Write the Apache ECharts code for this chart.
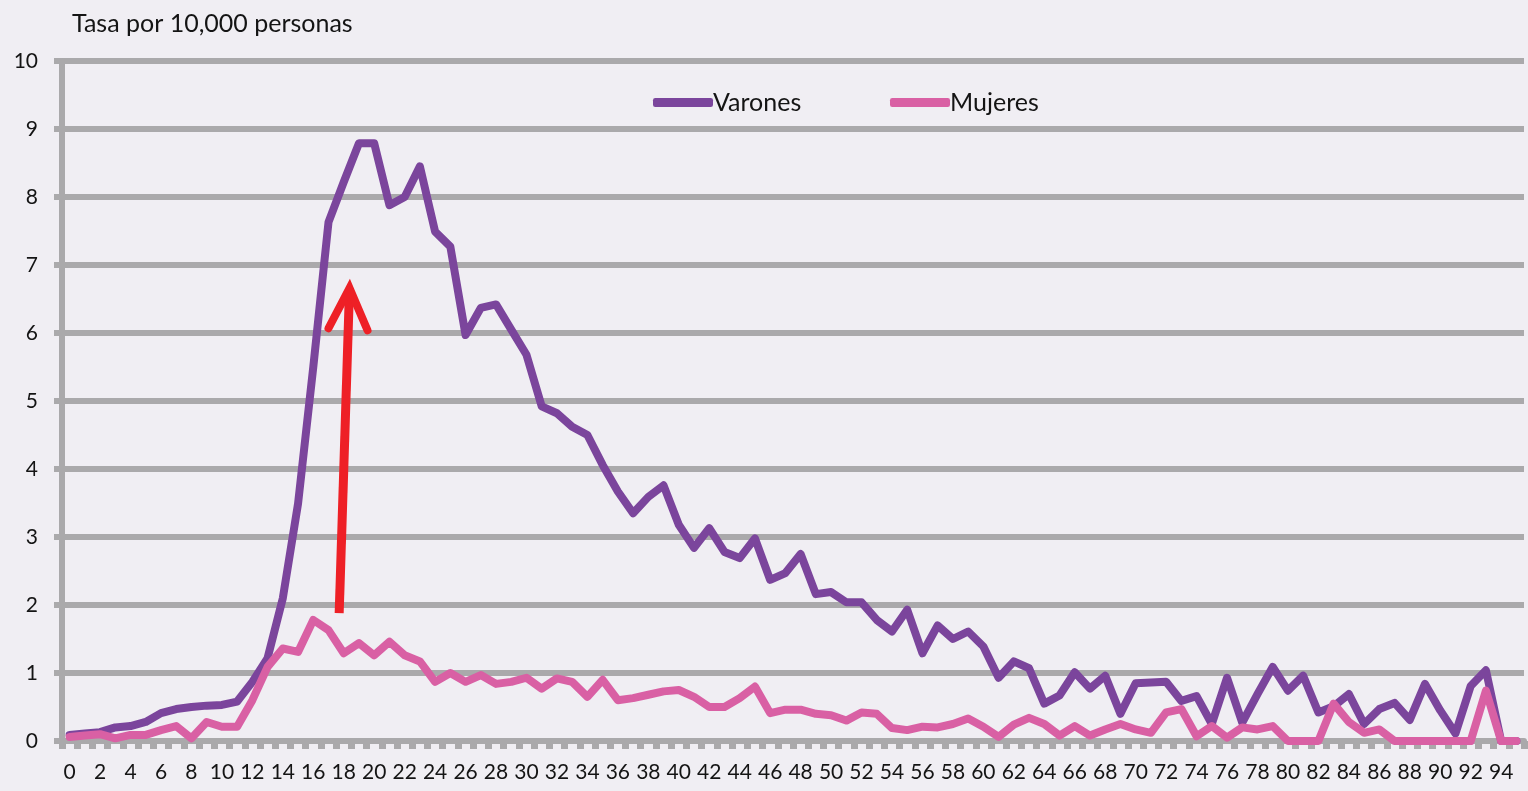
<!DOCTYPE html>
<html>
<head>
<meta charset="utf-8">
<script src="https://cdn.jsdelivr.net/npm/echarts@6/dist/echarts.min.js"></script>
<style>
	html, body { margin: 0; padding: 0; background: #f0eef3; }
	#chart { width: 1528px; height: 791px; }
</style>
</head>
<body>
<div id="chart"></div>
<script>
// edades 0..95
var ages = [];
for (var a = 0; a <= 95; a++) {
	ages.push(String(a));
}

// tasa por 10,000 personas, varones
var varones = [
	0.09, 0.11, 0.13, 0.20, 0.22, 0.28, 0.41, 0.47, 0.50, 0.52,
	0.53, 0.58, 0.87, 1.22, 2.10, 3.49, 5.50, 7.63, 8.22, 8.79,
	8.79, 7.88, 8.00, 8.45, 7.49, 7.27, 5.97, 6.37, 6.42, 6.05,
	5.68, 4.92, 4.82, 4.62, 4.50, 4.06, 3.67, 3.35, 3.59, 3.76,
	3.18, 2.84, 3.13, 2.78, 2.69, 2.98, 2.37, 2.47, 2.75, 2.16,
	2.19, 2.04, 2.04, 1.78, 1.61, 1.93, 1.29, 1.70, 1.50, 1.61,
	1.39, 0.93, 1.17, 1.07, 0.55, 0.67, 1.01, 0.77, 0.96, 0.40,
	0.85, 0.86, 0.87, 0.59, 0.66, 0.25, 0.93, 0.27, 0.69, 1.09,
	0.74, 0.96, 0.42, 0.51, 0.69, 0.25, 0.47, 0.56, 0.31, 0.84,
	0.45, 0.11, 0.81, 1.04, 0, 0
];

// tasa por 10,000 personas, mujeres
var mujeres = [
	0.06, 0.08, 0.10, 0.04, 0.09, 0.09, 0.16, 0.22, 0.04, 0.28,
	0.21, 0.21, 0.60, 1.09, 1.36, 1.31, 1.78, 1.63, 1.29, 1.44,
	1.26, 1.46, 1.26, 1.17, 0.87, 1.00, 0.87, 0.97, 0.84, 0.87,
	0.93, 0.77, 0.92, 0.87, 0.65, 0.90, 0.60, 0.63, 0.68, 0.73,
	0.75, 0.65, 0.50, 0.50, 0.63, 0.80, 0.41, 0.46, 0.46, 0.40,
	0.38, 0.30, 0.42, 0.40, 0.19, 0.16, 0.21, 0.20, 0.25, 0.33,
	0.21, 0.06, 0.24, 0.34, 0.25, 0.08, 0.22, 0.08, 0.17, 0.25,
	0.17, 0.12, 0.42, 0.47, 0.07, 0.22, 0.05, 0.20, 0.17, 0.22,
	0, 0, 0, 0.55, 0.28, 0.12, 0.17, 0, 0, 0,
	0, 0, 0, 0.74, 0, 0
];

// flecha roja (edad, tasa)
var arrowShaft = [[17.70, 1.88], [18.38, 6.66]];
var arrowHead = [[17.00, 6.07], [18.38, 6.66], [19.56, 6.04]];

var gray = '#aaa9ab';
var purple = '#7b459c';
var pink = '#d960a4';
var red = '#ee2026';
var font = 'Lato';

var legendItem = function (name, left) {
	return {
		data: [name],
		left: left,
		top: 90,
		padding: 0,
		itemWidth: 60,
		itemHeight: 9,
		icon: 'roundRect',
		textStyle: { fontFamily: font, fontSize: 25, color: '#141414', padding: [0, 0, 0, -5] }
	};
};

var chart = echarts.init(document.getElementById('chart'));

chart.setOption({
	backgroundColor: '#f0eef3',
	textStyle: { fontFamily: font, color: '#141414' },
	title: {
		text: 'Tasa por 10,000 personas',
		left: 67,
		top: 6,
		textStyle: { fontFamily: font, fontSize: 25, fontWeight: 'normal', color: '#141414' }
	},
	legend: [legendItem('Varones', 653), legendItem('Mujeres', 890)],
	grid: {
		left: 62,
		right: 4,
		top: 61,
		bottom: 50,
		containLabel: false
	},
	xAxis: [
		{
			type: 'category',
			data: ages,
			boundaryGap: true,
			axisLine: { lineStyle: { color: gray, width: 6 } },
			axisTick: { show: true, interval: 0, length: 8, lineStyle: { color: gray, width: 7 } },
			axisLabel: { interval: 1, fontSize: 21, color: '#141414', margin: 21, fontFamily: font },
			splitLine: { show: false }
		},
		{
			// eje oculto para la flecha
			type: 'value',
			min: -0.5,
			max: 95.5,
			show: false
		}
	],
	yAxis: {
		type: 'value',
		min: 0,
		max: 10,
		interval: 1,
		axisLine: { show: true, onZero: false, lineStyle: { color: gray, width: 6 } },
		axisTick: { show: true, length: 8, lineStyle: { color: gray, width: 6 } },
		axisLabel: { fontSize: 21, color: '#141414', margin: 24, fontFamily: font },
		splitLine: { lineStyle: { color: gray, width: 6 } }
	},
	series: [
		{
			name: 'Varones',
			type: 'line',
			data: varones,
			symbol: 'none',
			color: purple,
			lineStyle: { color: purple, width: 8, cap: 'round', join: 'round' },
			z: 3
		},
		{
			name: 'Mujeres',
			type: 'line',
			data: mujeres,
			symbol: 'none',
			color: pink,
			lineStyle: { color: pink, width: 8, cap: 'round', join: 'round' },
			z: 4
		},
		{
			name: 'flecha',
			type: 'line',
			xAxisIndex: 1,
			data: arrowShaft,
			symbol: 'none',
			silent: true,
			lineStyle: { color: red, width: 9, cap: 'butt' },
			z: 5
		},
		{
			name: 'punta',
			type: 'line',
			xAxisIndex: 1,
			data: arrowHead,
			symbol: 'none',
			silent: true,
			lineStyle: { color: red, width: 8, cap: 'round', join: 'miter' },
			z: 5
		}
	]
});
</script>
</body>
</html>
